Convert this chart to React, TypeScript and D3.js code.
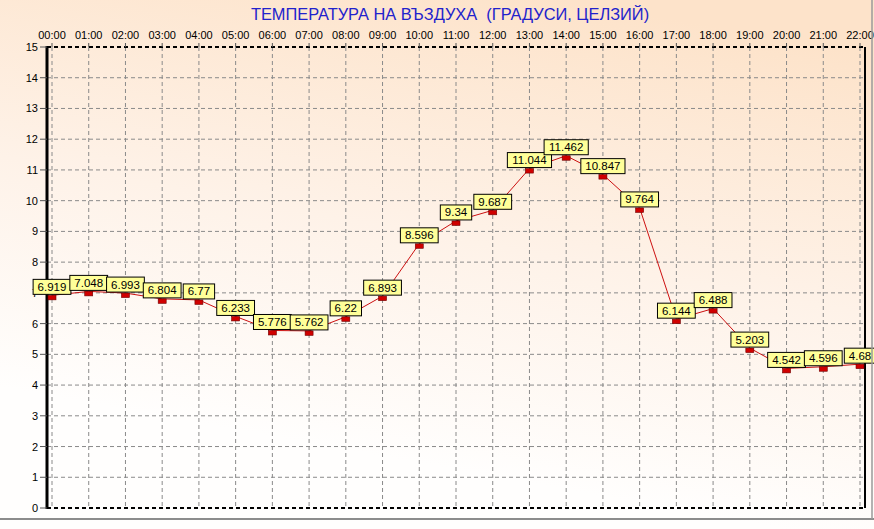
import React from 'react';
import * as d3 from 'd3';

const hours = ['00:00','01:00','02:00','03:00','04:00','05:00','06:00','07:00','08:00','09:00','10:00','11:00','12:00','13:00','14:00','15:00','16:00','17:00','18:00','19:00','20:00','21:00','22:00'];
const temps = [6.919,7.048,6.993,6.804,6.77,6.233,5.776,5.762,6.22,6.893,8.596,9.34,9.687,11.044,11.462,10.847,9.764,6.144,6.488,5.203,4.542,4.596,4.68];
const yTicks = d3.range(0, 16);
const title = 'ТЕМПЕРАТУРА НА ВЪЗДУХА  (ГРАДУСИ, ЦЕЛЗИЙ)';

const FONT = '"Liberation Sans", Arial, sans-serif';

function textW(s: string, fs: number) {
  let w = 0;
  for (const c of s) w += c === '.' ? 0.278 : 0.556;
  return w * fs;
}

export default function App() {
  const W = 874, H = 529;
  const x = d3.scalePoint<string>().domain(hours).range([52, 860]);
  const y = d3.scaleLinear().domain([0, 15]).range([508, 47]);
  const left = 47, right = 865, top = y(15), bottom = y(0);
  const line = d3.line<number>().x((d, i) => x(hours[i])!).y(d => y(d));
  const lfs = 11.5;

  return (
    <svg width={W} height={H} style={{ position: 'absolute', left: 0, top: 0 }} fontFamily={FONT}>
      <defs>
        <linearGradient id="bg" x1="0.65" y1="0" x2="0.35" y2="1">
          <stop offset="0" stopColor="#fde3ca" />
          <stop offset="0.45" stopColor="#fef2e8" />
          <stop offset="0.85" stopColor="#fffefd" />
        </linearGradient>
        <clipPath id="clip"><rect x={0} y={0} width={W} height={H} /></clipPath>
      </defs>
      <rect x={0} y={0} width={W} height={H} fill="url(#bg)" />
      <text x={450} y={20} textAnchor="middle" fontSize={16.4} fill="#2222cc" style={{ whiteSpace: 'pre' }}>{title}</text>

      {/* grid */}
      {yTicks.filter(t => t > 0 && t < 15).map(t => (
        <line key={'h' + t} x1={left} x2={right} y1={y(t)} y2={y(t)} stroke="#8a8a8a" strokeDasharray="4,3" />
      ))}
      {hours.map(h => (
        <line key={'v' + h} x1={x(h)} x2={x(h)} y1={top} y2={bottom} stroke="#8a8a8a" strokeDasharray="4,3" />
      ))}

      {/* frame */}
      <line x1={left} x2={right} y1={top} y2={top} stroke="#000" strokeWidth={2} strokeDasharray="4,3" />
      <line x1={left} x2={right} y1={bottom} y2={bottom} stroke="#000" strokeWidth={2} strokeDasharray="4,3" />
      <line x1={right} x2={right} y1={top} y2={bottom} stroke="#000" strokeWidth={2} />
      <line x1={left} x2={left} y1={top - 1} y2={bottom + 1} stroke="#000" strokeWidth={3} />

      {/* y ticks */}
      {yTicks.map(t => (
        <g key={'yt' + t}>
          <line x1={40} x2={left} y1={y(t)} y2={y(t)} stroke="#555" />
          <text x={38} y={y(t) + 4} textAnchor="end" fontSize={11} fill="#000">{t}</text>
        </g>
      ))}
      {/* x ticks */}
      {hours.map(h => (
        <g key={'xt' + h}>
          <line x1={x(h)} x2={x(h)} y1={top - 4} y2={top} stroke="#555" />
          <text x={x(h)} y={39} textAnchor="middle" fontSize={11} fill="#000">{h}</text>
        </g>
      ))}

      {/* series */}
      <path d={line(temps) || ''} fill="none" stroke="#cc1010" strokeWidth={1} />
      {temps.map((v, i) => (
        <rect key={'m' + i} x={x(hours[i])! - 4} y={y(v)} width={8} height={4.5} fill="#d00000" stroke="#700000" strokeWidth={0.6} />
      ))}
      <g clipPath="url(#clip)">
        {temps.map((v, i) => {
          const s = String(v);
          const w = textW(s, lfs) + 9;
          const cx = x(hours[i])!;
          const by = y(v) - 1;
          return (
            <g key={'l' + i}>
              <rect x={cx - w / 2} y={by - 15} width={w} height={15} fill="#ffff99" stroke="#000" strokeWidth={1} />
              <text x={cx} y={by - 3.5} textAnchor="middle" fontSize={lfs} fill="#000">{s}</text>
            </g>
          );
        })}
      </g>

      {/* outer frame */}
      <line x1={0} x2={W} y1={519} y2={519} stroke="#8c8c8c" strokeWidth={2} />
      <line x1={872} x2={872} y1={0} y2={519} stroke="#9a9a9a" strokeWidth={1.5} />
    </svg>
  );
}
